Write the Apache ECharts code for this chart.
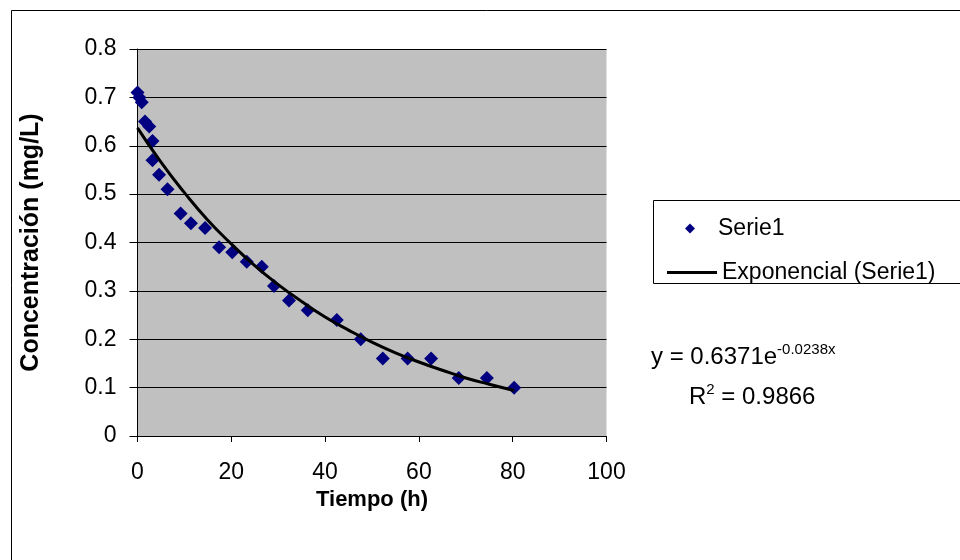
<!DOCTYPE html>
<html>
<head>
<meta charset="utf-8">
<script src="https://cdn.jsdelivr.net/npm/echarts@6/dist/echarts.min.js"></script>
<style>
  html, body { margin: 0; padding: 0; background: #fff; }
  #chart { width: 960px; height: 560px; }
</style>
</head>
<body>
<div id="chart"></div>
<script>
// datos
var tiempo = [0, 0.4, 0.9, 1.6, 2.5, 3.2, 3.2, 4.6, 6.4, 9.2, 11.4, 14.4, 17.4, 20.2, 23.3,
  26.5, 29.1, 32.3, 36.3, 42.5, 47.6, 52.3, 57.6, 62.6, 68.5, 74.5, 80.3];
var concentracion = [0.71, 0.70, 0.69, 0.65, 0.64, 0.61, 0.57, 0.54, 0.51, 0.46, 0.44, 0.43, 0.39, 0.38, 0.36,
  0.35, 0.31, 0.28, 0.26, 0.24, 0.20, 0.16, 0.16, 0.16, 0.12, 0.12, 0.10];

// linea de tendencia
var tendX = [0, 5, 10, 15, 20, 25, 30, 35, 40, 45, 50, 55, 60, 65, 70, 75, 80.3];
var tendY = [0.637, 0.566, 0.503, 0.446, 0.397, 0.352, 0.313, 0.278, 0.246, 0.219, 0.194, 0.172, 0.153, 0.136, 0.120, 0.107, 0.094];

var xTicks = [0, 20, 40, 60, 80, 100];
var yTicks = [0, 0.1, 0.2, 0.3, 0.4, 0.5, 0.6, 0.7, 0.8];

var fuente = "'Liberation Sans', Arial, sans-serif";

var puntos = tiempo.map(function (t, i) { return [t, concentracion[i]]; });
var curva = tendX.map(function (t, i) { return [t, tendY[i]]; });

var chart = echarts.init(document.getElementById('chart'));

chart.setOption({
  backgroundColor: '#fff',
  animation: false,
  textStyle: { fontFamily: fuente },
  grid: { left: 137.5, right: 353.5, top: 49, bottom: 124, show: true, backgroundColor: '#c0c0c0', borderWidth: 0 },
  xAxis: {
    type: 'value',
    min: xTicks[0],
    max: xTicks[xTicks.length - 1],
    interval: 20,
    name: 'Tiempo (h)',
    nameLocation: 'middle',
    nameGap: 40,
    nameTextStyle: { fontSize: 22, fontWeight: 'bold', color: '#000', fontFamily: fuente },
    axisLine: { lineStyle: { color: '#000', width: 1 } },
    axisTick: { show: true, length: 6, lineStyle: { color: '#000' } },
    axisLabel: { fontSize: 23, color: '#000', margin: 25, fontFamily: fuente },
    splitLine: { show: false }
  },
  yAxis: {
    type: 'value',
    min: yTicks[0],
    max: yTicks[yTicks.length - 1],
    interval: 0.1,
    name: 'Concentración (mg/L)',
    nameLocation: 'middle',
    nameGap: 94,
    nameTextStyle: { fontSize: 25, fontWeight: 'bold', color: '#000', fontFamily: fuente },
    axisLine: { show: true, lineStyle: { color: '#000', width: 1 } },
    axisTick: { show: true, length: 8, lineStyle: { color: '#000' } },
    axisLabel: {
      fontSize: 23, color: '#000', margin: 21, fontFamily: fuente,
      formatter: function (v) { return String(Math.round(v * 10) / 10); }
    },
    splitLine: { show: true, lineStyle: { color: '#000', width: 1 } }
  },
  legend: [
    {
      data: [{ name: 'Serie1', icon: 'diamond' }],
      left: 680, top: 212,
      itemWidth: 10, itemHeight: 10,
      textStyle: { fontSize: 23, color: '#000', fontFamily: fuente, padding: [0, 0, 0, 18] }
    },
    {
      data: [{ name: 'Exponencial (Serie1)', icon: 'rect' }],
      left: 662, top: 256,
      itemWidth: 50, itemHeight: 3,
      textStyle: { fontSize: 23, color: '#000', fontFamily: fuente }
    }
  ],
  graphic: [
    { type: 'rect', left: 9, top: 8, shape: { width: 1000, height: 1000 }, style: { fill: 'none', stroke: '#000', lineWidth: 1 }, z: -1 },
    { type: 'rect', left: 653, top: 200, shape: { width: 400, height: 83 }, style: { fill: '#fff', stroke: '#000', lineWidth: 1 }, z: -1 },
    {
      type: 'text', left: 651, top: 342,
      style: {
        text: '{a|y = 0.6371e}{b|-0.0238x}',
        rich: {
          a: { fontSize: 24, fontFamily: fuente, fill: '#000', verticalAlign: 'bottom' },
          b: { fontSize: 15, fontFamily: fuente, fill: '#000', verticalAlign: 'top', padding: [0, 0, 12, 0] }
        }
      }
    },
    {
      type: 'text', left: 689, top: 382,
      style: {
        text: '{a|R}{b|2}{a| = 0.9866}',
        rich: {
          a: { fontSize: 24, fontFamily: fuente, fill: '#000', verticalAlign: 'bottom' },
          b: { fontSize: 15, fontFamily: fuente, fill: '#000', verticalAlign: 'top', padding: [0, 0, 12, 0] }
        }
      }
    }
  ],
  series: [
    {
      name: 'Serie1',
      type: 'scatter',
      data: puntos,
      symbol: 'diamond',
      symbolSize: 14,
      itemStyle: { color: '#000080', opacity: 1 },
      z: 3
    },
    {
      name: 'Exponencial (Serie1)',
      type: 'line',
      data: curva,
      smooth: true,
      showSymbol: false,
      symbol: 'none',
      lineStyle: { color: '#000', width: 3 },
      itemStyle: { color: '#000' },
      z: 4
    }
  ]
});
</script>
</body>
</html>
